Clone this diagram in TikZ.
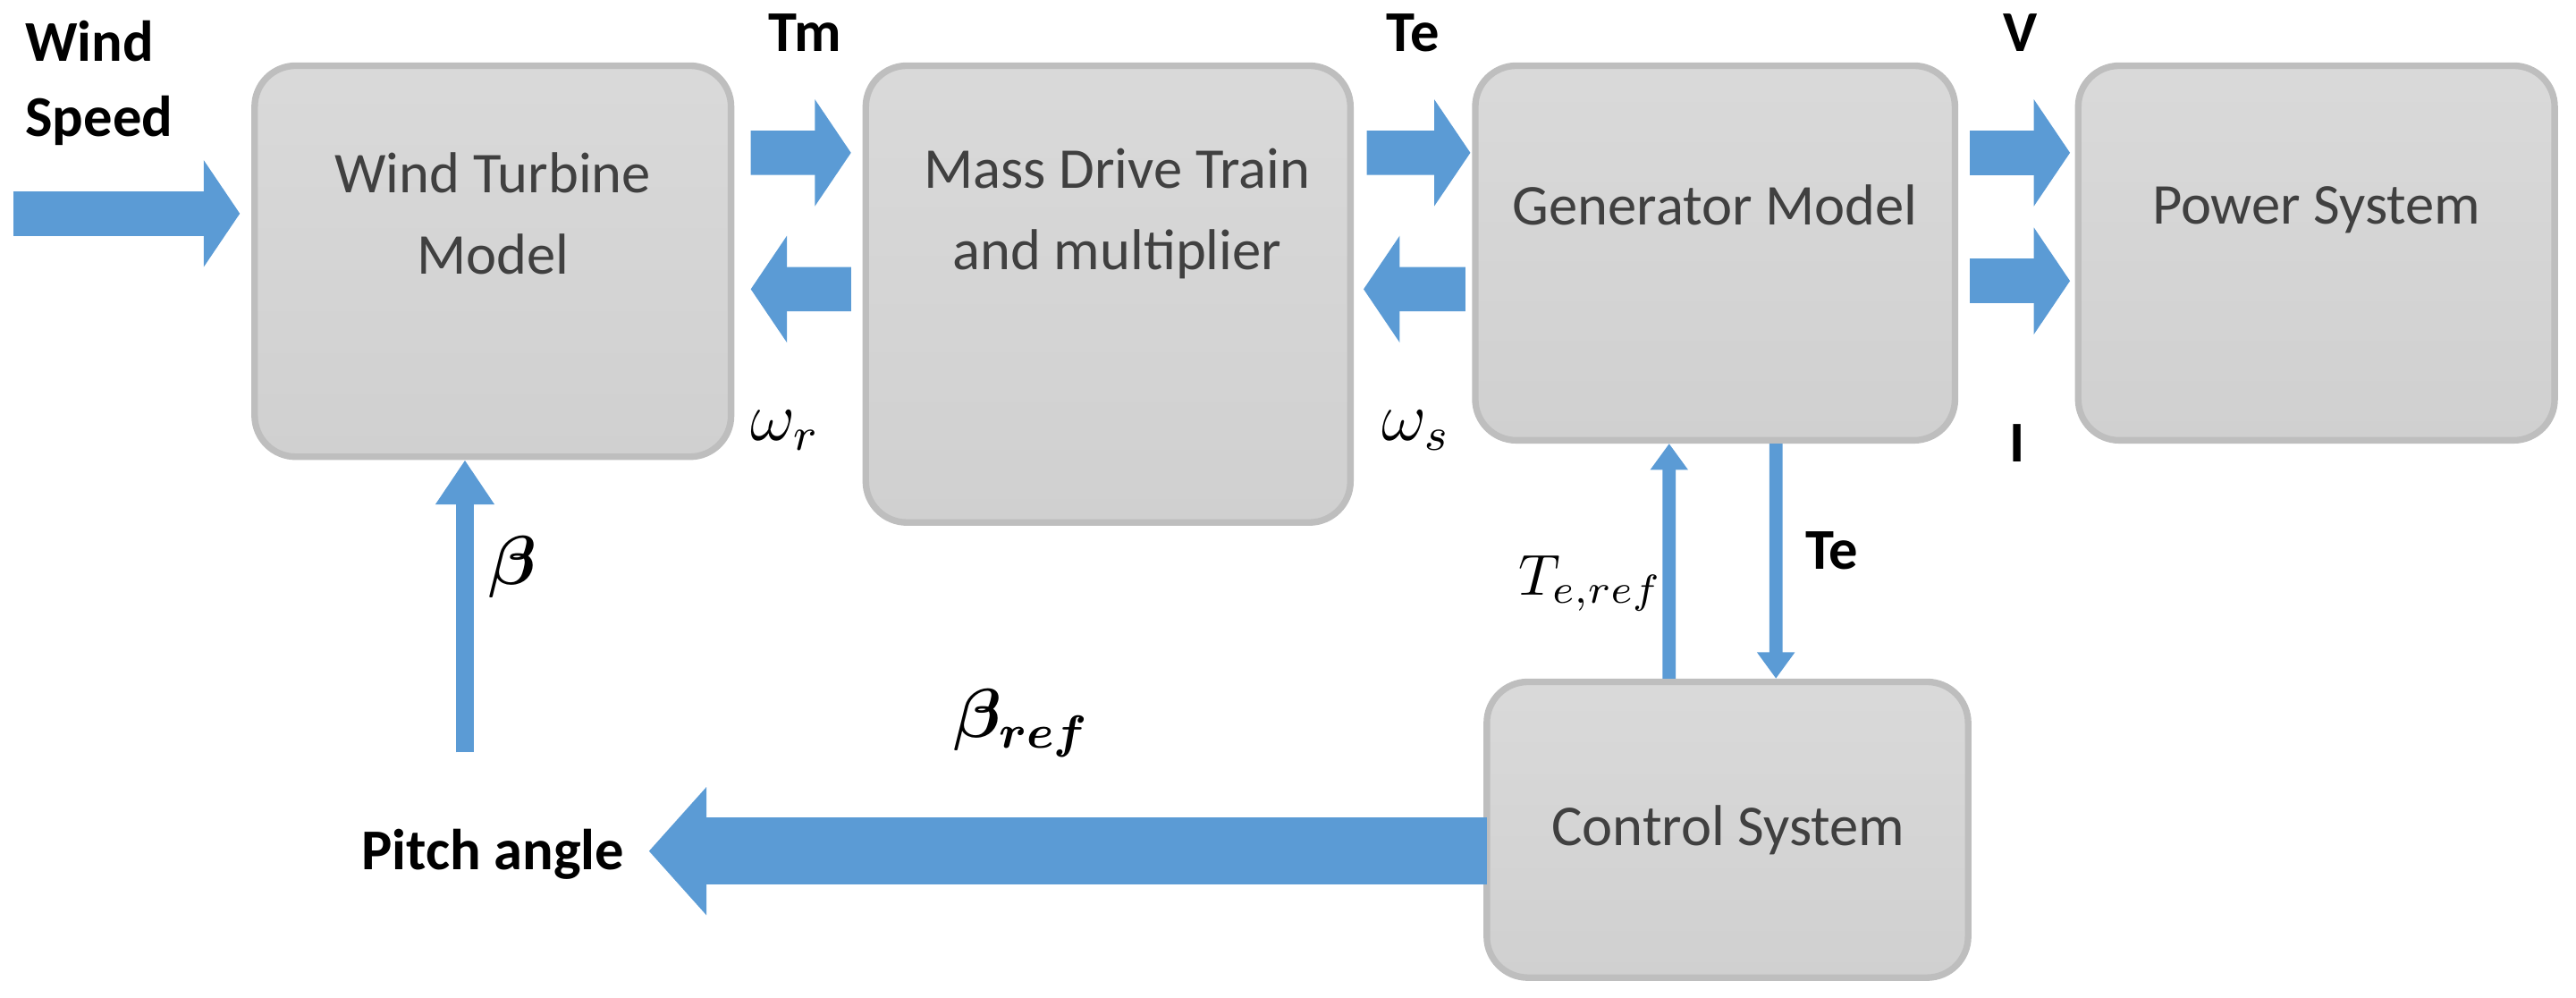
\documentclass[tikz,border=0pt]{standalone}
\usepackage{amsmath}
\usepackage{fontspec}
\setmainfont{Carlito}
\usepackage{tikz}
\usetikzlibrary{positioning,calc,arrows.meta}
\definecolor{boxgray}{RGB}{208,208,208}
\definecolor{boxedge}{RGB}{190,190,190}
\definecolor{flowblue}{RGB}{91,155,213}
\tikzset{
  block/.style={draw=boxedge, line width=0.4mm, rounded corners=2.5mm, top color=boxgray!80, bottom color=boxgray},
  btext/.style={font=\fontsize{10}{14}\selectfont, align=center, text=black!75},
  lbl/.style={font=\bfseries\fontsize{10}{13}\selectfont},
  fat/.style={draw=flowblue, line width=2.7mm, -{Triangle[length=2.2mm, width=6.4mm]}},
  wide/.style={draw=flowblue, line width=4.1mm, -{Triangle[length=3.5mm, width=7.6mm]}},
  slim/.style={draw=flowblue, line width=1.1mm, -{Triangle[length=2.7mm, width=3.4mm]}},
  thin/.style={draw=flowblue, line width=0.8mm, -{Triangle[length=1.6mm, width=2.2mm]}}
}
\begin{document}
\begin{tikzpicture}[x=0.1mm, y=-0.1mm]
\useasboundingbox (0,0) rectangle (1568,607);
% Blocks
\node[block, minimum width=29mm, minimum height=23.8mm] (wt) at (300,159) {};
\node[block, minimum width=29.5mm, minimum height=27.8mm] (mdt) at (674.5,179) {};
\node[block, minimum width=29.2mm, minimum height=22.8mm] (gen) at (1044,154) {};
\node[block, minimum width=29mm, minimum height=22.8mm] (pw) at (1410,154) {};
\node[block, minimum width=29.3mm, minimum height=18mm] (ctl) at (1051.5,505) {};

% Block texts
\node[btext] (wttxt) at (300,130) {Wind Turbine\\Model};
\node[btext] (mdttxt) at (680,130) {Mass Drive Train\\and multiplier};
\node[btext] (gentxt) at (1044,125) {Generator Model};
\node[btext] (pwtxt) at (1410,128) {Power System};
\node[btext] (ctltxt) at (1052,505) {Control System};

% Main flow
\coordinate (wsin) at (8,130);
\coordinate (pitchend) at (395,518);
\coordinate (betain) at (283,458);
\draw[fat] (wsin) -- ($(wsin -| wt.west)+(-7,0)$);
\draw[fat] ($(wt.north east)+(10,55)$) -- ($(mdt.north west)+(-7,55)$);
\draw[fat] ($(mdt.north west)+(-7,138)$) -- ($(wt.north east)+(10,138)$);
\draw[fat] ($(mdt.north east)+(8,55)$) -- ($(gen.north west)+(-1,55)$);
\draw[fat] ($(gen.north west)+(-4,138)$) -- ($(mdt.north east)+(6,138)$);
\draw[fat] ($(gen.north east)+(7,55)$) -- ($(pw.north west)+(-3,55)$);
\draw[fat] ($(gen.north east)+(7,133)$) -- ($(pw.north west)+(-3,133)$);

% Feedback
\draw[slim] (betain) -- (betain |- wt.south);
\draw[thin] ($(ctl.north west)+(113,0)$) -- ($(gen.south west)+(120,0)$);
\draw[thin] ($(gen.south west)+(185,0)$) -- ($(ctl.north west)+(178,0)$);
\draw[wide] ($(ctl.west)+(2,13)$) -- (pitchend);

% Signal labels
\node[lbl, anchor=north west, align=left] (ws) at (3,0) {Wind\\Speed};
\node[lbl] (tm) at (490,20) {Tm};
\node[lbl] (te) at (860,20) {Te};
\node[lbl] (v) at (1230,20) {V};
\node[lbl] (i) at (1228,270) {I};
\node[lbl] (te2) at (1115,335) {Te};
\node[lbl] (pitch) at (300,520) {Pitch angle};
\node[font=\large] (wr) at (478,262) {$\omega_r$};
\node[font=\large] (wsl) at (862,262) {$\omega_s$};
\node[font=\large] (beta) at (312,345) {$\boldsymbol{\beta}$};
\node[font=\normalsize] (teref) at (968,355) {$T_{e,ref}$};
\node[font=\large] (betaref) at (622,440) {$\boldsymbol{\beta_{ref}}$};
\end{tikzpicture}
\end{document}
